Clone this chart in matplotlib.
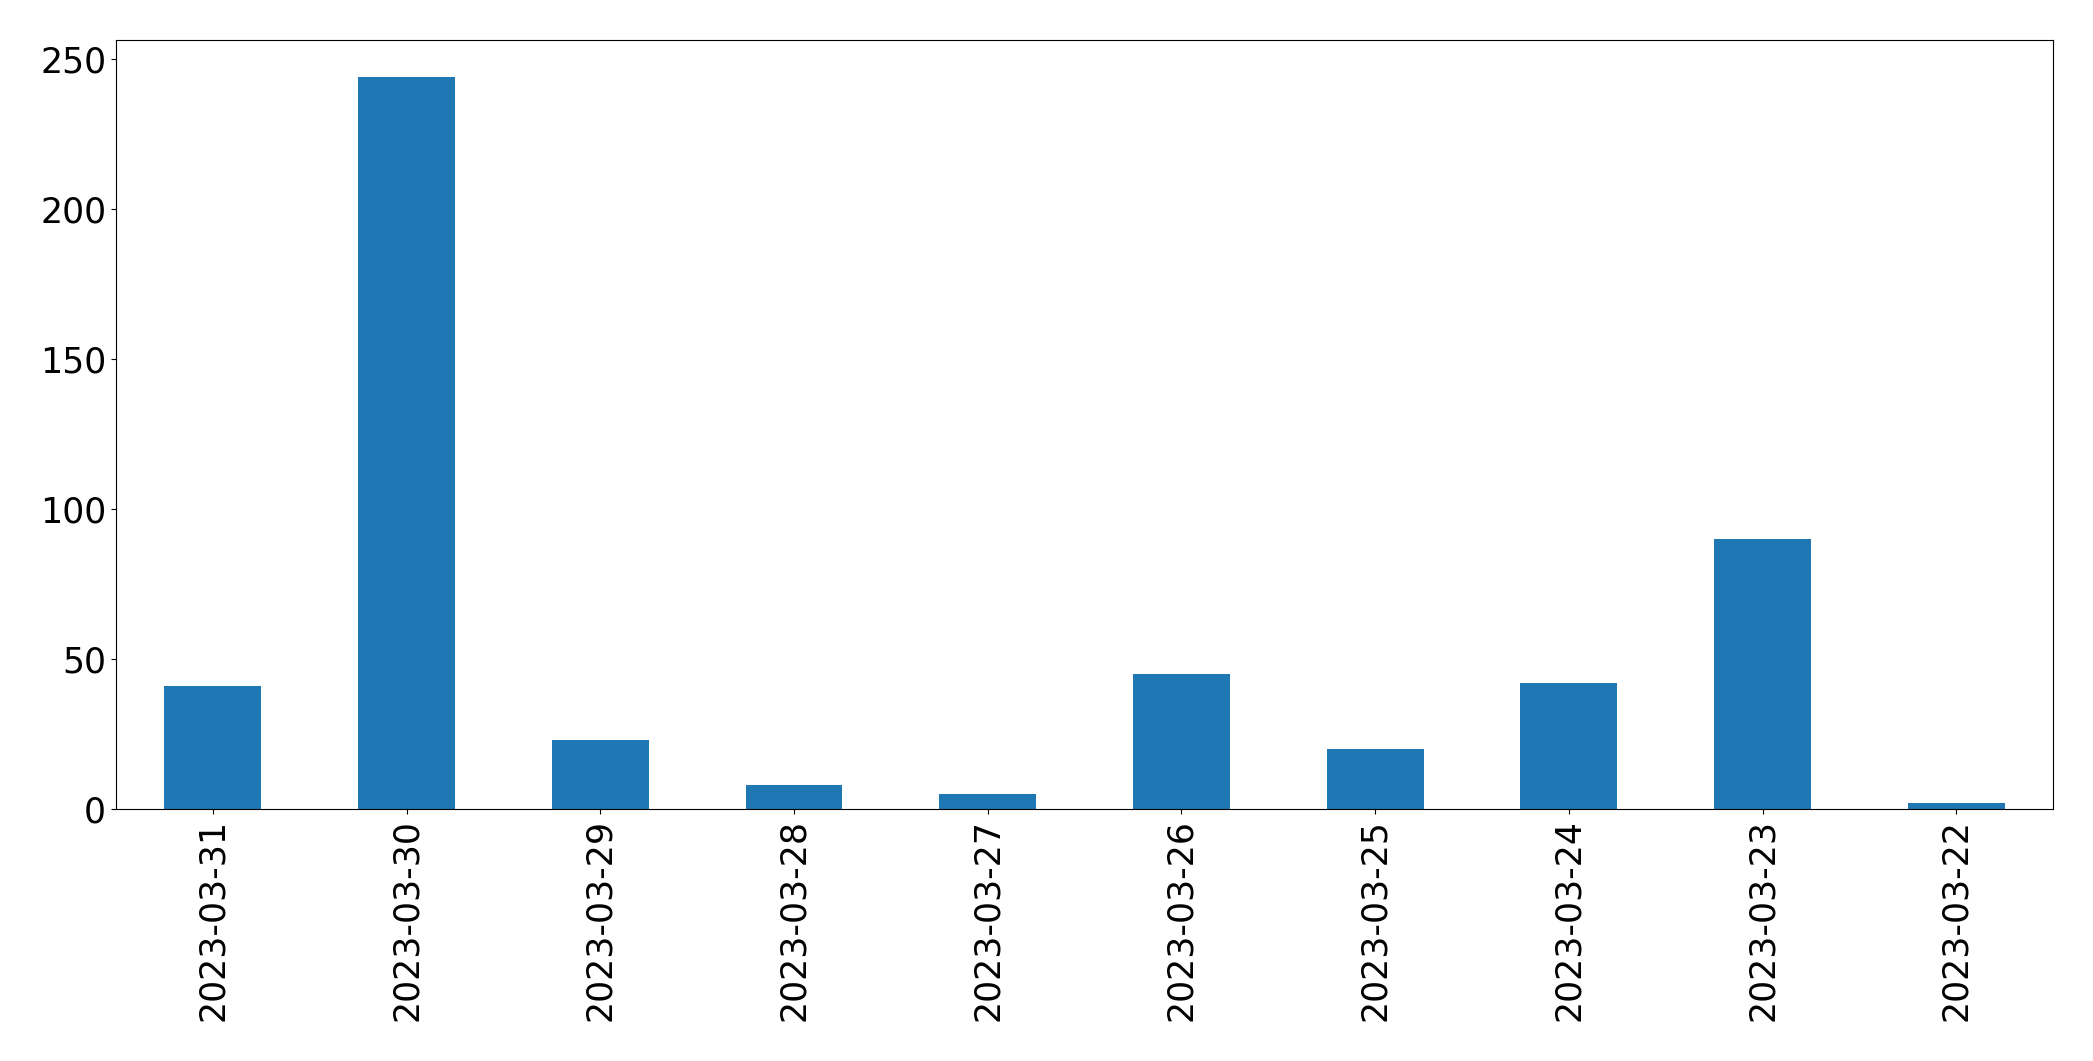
import matplotlib
import matplotlib.pyplot as plt

matplotlib.use("Agg")

# daily counts, newest first (as in the source chart)
dates = [
    "2023-03-31",
    "2023-03-30",
    "2023-03-29",
    "2023-03-28",
    "2023-03-27",
    "2023-03-26",
    "2023-03-25",
    "2023-03-24",
    "2023-03-23",
    "2023-03-22",
]
counts = [41, 244, 23, 8, 5, 45, 20, 42, 90, 2]


def plot_counts(dates, counts, path="out.png"):
    fig = plt.figure(figsize=(20.93, 10.61), dpi=100)
    ax = fig.add_axes([0.0554, 0.2375, 0.9256, 0.7248])

    positions = range(len(dates))
    ax.bar(positions, counts, width=0.5, color="#1f77b4")
    ax.set_xlim(-0.5, len(dates) - 0.5)

    ax.set_xticks(list(positions))
    ax.set_xticklabels(dates, rotation=90)
    ax.tick_params(axis="both", labelsize=25)

    fig.savefig(path, dpi=100)


if __name__ == "__main__":
    plot_counts(dates, counts)
